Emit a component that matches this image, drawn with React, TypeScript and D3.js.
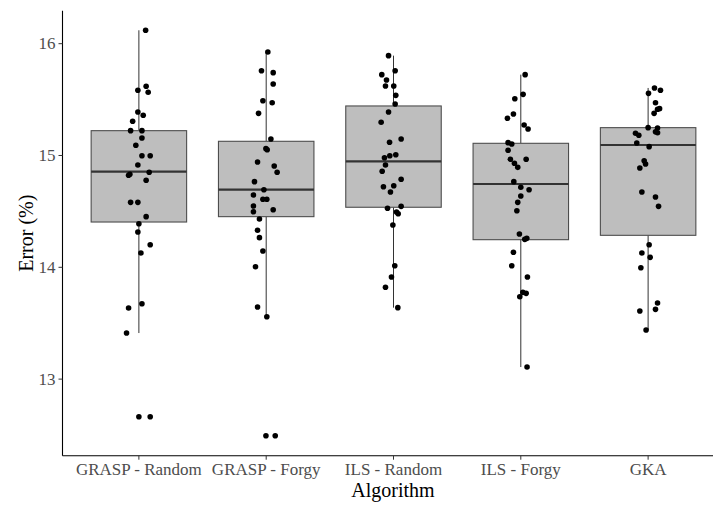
import React, { useRef, useEffect } from "react";
import { select, scaleLinear, scalePoint } from "d3";

// categories on the x axis
const algorithms = ["GRASP - Random", "GRASP - Forgy", "ILS - Random", "ILS - Forgy", "GKA"];

// box stats
const lowerWhisker = [13.412, 13.558, 13.639, 13.108, 13.439];
const quartile1 = [14.405, 14.453, 14.537, 14.247, 14.286];
const medians = [14.855, 14.694, 14.948, 14.745, 15.094];
const quartile3 = [15.222, 15.127, 15.443, 15.109, 15.249];
const upperWhisker = [16.12, 15.926, 15.893, 15.723, 15.604];

// run errors (%) per algorithm
const graspRandom = [16.12, 15.619, 15.583, 15.565, 15.389, 15.36, 15.306, 15.222, 15.222, 15.157, 15.091, 14.998, 14.998, 14.915, 14.832, 14.823, 14.85, 14.778, 14.581, 14.581, 14.453, 14.39, 14.316, 14.202, 14.128, 13.674, 13.636, 13.412, 12.664, 12.664];
const graspForgy = [15.926, 15.758, 15.741, 15.64, 15.49, 15.472, 15.377, 15.148, 15.061, 15.052, 14.942, 14.906, 14.85, 14.766, 14.694, 14.647, 14.608, 14.608, 14.548, 14.497, 14.515, 14.432, 14.331, 14.265, 14.146, 14.005, 13.645, 13.558, 12.494, 12.494];
const ilsRandom = [15.893, 15.758, 15.723, 15.675, 15.622, 15.622, 15.538, 15.461, 15.389, 15.297, 15.148, 15.118, 15.007, 14.998, 14.98, 14.915, 14.859, 14.787, 14.721, 14.73, 14.674, 14.545, 14.528, 14.495, 14.479, 14.378, 14.014, 13.913, 13.821, 13.639];
const ilsForgy = [15.723, 15.547, 15.508, 15.371, 15.333, 15.273, 15.237, 15.115, 15.103, 15.047, 14.966, 14.966, 14.93, 14.894, 14.766, 14.716, 14.694, 14.638, 14.581, 14.506, 14.298, 14.259, 14.25, 14.134, 14.014, 13.913, 13.776, 13.767, 13.737, 13.108];
const gka = [15.604, 15.583, 15.556, 15.472, 15.419, 15.413, 15.377, 15.249, 15.246, 15.213, 15.204, 15.199, 15.181, 15.112, 15.079, 14.953, 14.924, 14.888, 14.674, 14.629, 14.545, 14.202, 14.128, 14.089, 13.996, 13.681, 13.624, 13.609, 13.439];

// horizontal jitter of each point, in category steps
const jitterGraspRandom = [.053, .057, -.008, .073, -.008, .034, -.049, -.065, .024, .024, -.024, .024, .089, -.008, -.071, -.081, .081, .057, -.065, -.008, .057, 0, -.008, .089, .016, .024, -.081, -.097, 0, .089];
const jitterGraspForgy = [.013, -.037, .055, .055, -.026, .047, -.06, .037, -.002, .008, -.068, .063, .086, -.092, -.018, -.1, -.026, .005, -.1, -.1, .055, -.053, -.068, -.053, -.026, -.084, -.068, .005, -.002, .071];
const jitterIlsRandom = [-.039, .013, -.092, -.055, -.063, .002, .018, .013, -.039, -.097, .06, -.031, .018, -.029, -.071, -.063, -.089, .06, -.079, .002, -.024, .06, -.047, .024, .037, -.005, .01, -.016, -.063, .034];
const jitterIlsForgy = [.034, .018, -.047, -.058, -.105, .026, .057, -.1, -.071, -.1, .042, -.082, -.05, -.024, -.055, 0, .065, 0, -.024, -.031, -.011, .047, .031, -.058, -.071, .052, .016, .042, -.008, .049];
const jitterGka = [.05, .097, .003, .058, .09, .074, .047, 0, .074, .058, .074, -.099, -.073, -.089, .008, -.031, -.02, -.065, -.049, .058, .082, .008, -.049, .016, -.057, .074, .058, -.065, -.016];

const yTicks = [13, 14, 15, 16];

const runs = [graspRandom, graspForgy, ilsRandom, ilsForgy, gka];
const jitters = [jitterGraspRandom, jitterGraspForgy, jitterIlsRandom, jitterIlsForgy, jitterGka];

export default function App() {
  const svgRef = useRef(null);

  useEffect(() => {
    const svg = select(svgRef.current);
    svg.selectAll("*").remove();

    const left = 62.5;
    const top = 10.7;
    const bottom = 455.7;

    // ggplot puts 0.6 of a step either side; the right end falls off the picture
    const xScale = scalePoint<string>()
      .domain(algorithms)
      .range([left, 724.5])
      .padding(0.6);
    const step = xScale.step();
    const boxW = step * 0.75;

    const yScale = scaleLinear().domain([12.315, 16.295]).range([bottom, top]);

    const serif = "Liberation Serif, DejaVu Serif, Times New Roman, serif";

    // boxes
    const boxes = svg.append("g");
    algorithms.forEach((name, i) => {
      const cx = xScale(name);
      boxes.append("line")
        .attr("x1", cx).attr("x2", cx)
        .attr("y1", yScale(upperWhisker[i])).attr("y2", yScale(quartile3[i]))
        .attr("stroke", "#333").attr("stroke-width", 1);
      boxes.append("line")
        .attr("x1", cx).attr("x2", cx)
        .attr("y1", yScale(quartile1[i])).attr("y2", yScale(lowerWhisker[i]))
        .attr("stroke", "#333").attr("stroke-width", 1);
      boxes.append("rect")
        .attr("x", cx - boxW / 2)
        .attr("y", yScale(quartile3[i]))
        .attr("width", boxW)
        .attr("height", yScale(quartile1[i]) - yScale(quartile3[i]))
        .attr("fill", "#bebebe")
        .attr("stroke", "#4d4d4d")
        .attr("stroke-width", 1.1);
      boxes.append("line")
        .attr("x1", cx - boxW / 2).attr("x2", cx + boxW / 2)
        .attr("y1", yScale(medians[i])).attr("y2", yScale(medians[i]))
        .attr("stroke", "#333").attr("stroke-width", 2.2);
    });

    // jittered points
    const points = svg.append("g");
    runs.forEach((vals, i) => {
      const cx = xScale(algorithms[i]);
      points.selectAll(null)
        .data(vals)
        .join("circle")
        .attr("cx", (d, j) => cx + jitters[i][j] * step)
        .attr("cy", d => yScale(d))
        .attr("r", 2.8)
        .attr("fill", "#000");
    });

    // axes
    const axes = svg.append("g").style("font-family", serif);
    axes.append("line")
      .attr("x1", left).attr("x2", left)
      .attr("y1", top).attr("y2", bottom)
      .attr("stroke", "#000").attr("stroke-width", 1.1);
    axes.append("line")
      .attr("x1", left).attr("x2", 713)
      .attr("y1", bottom).attr("y2", bottom)
      .attr("stroke", "#000").attr("stroke-width", 1.1);

    yTicks.forEach(t => {
      axes.append("line")
        .attr("x1", left - 4).attr("x2", left)
        .attr("y1", yScale(t)).attr("y2", yScale(t))
        .attr("stroke", "#333").attr("stroke-width", 1);
      axes.append("text")
        .attr("x", left - 7)
        .attr("y", yScale(t))
        .attr("dy", "0.34em")
        .attr("text-anchor", "end")
        .style("font-size", "17px")
        .attr("fill", "#4d4d4d")
        .text(t);
    });

    algorithms.forEach(name => {
      axes.append("line")
        .attr("x1", xScale(name)).attr("x2", xScale(name))
        .attr("y1", bottom).attr("y2", bottom + 4)
        .attr("stroke", "#333").attr("stroke-width", 1);
      axes.append("text")
        .attr("x", xScale(name))
        .attr("y", bottom + 19)
        .attr("text-anchor", "middle")
        .style("font-size", "17px")
        .attr("fill", "#4d4d4d")
        .text(name);
    });

    axes.append("text")
      .attr("x", 393)
      .attr("y", 497)
      .attr("text-anchor", "middle")
      .style("font-size", "20px")
      .attr("fill", "#000")
      .text("Algorithm");

    axes.append("text")
      .attr("transform", `translate(33, ${(top + bottom) / 2}) rotate(-90)`)
      .attr("text-anchor", "middle")
      .style("font-size", "20px")
      .attr("fill", "#000")
      .text("Error (%)");
  }, []);

  return (
    <svg
      ref={svgRef}
      width={713}
      height={505}
      style={{ position: "absolute", left: 0, top: 0, background: "#fff" }}
    />
  );
}
